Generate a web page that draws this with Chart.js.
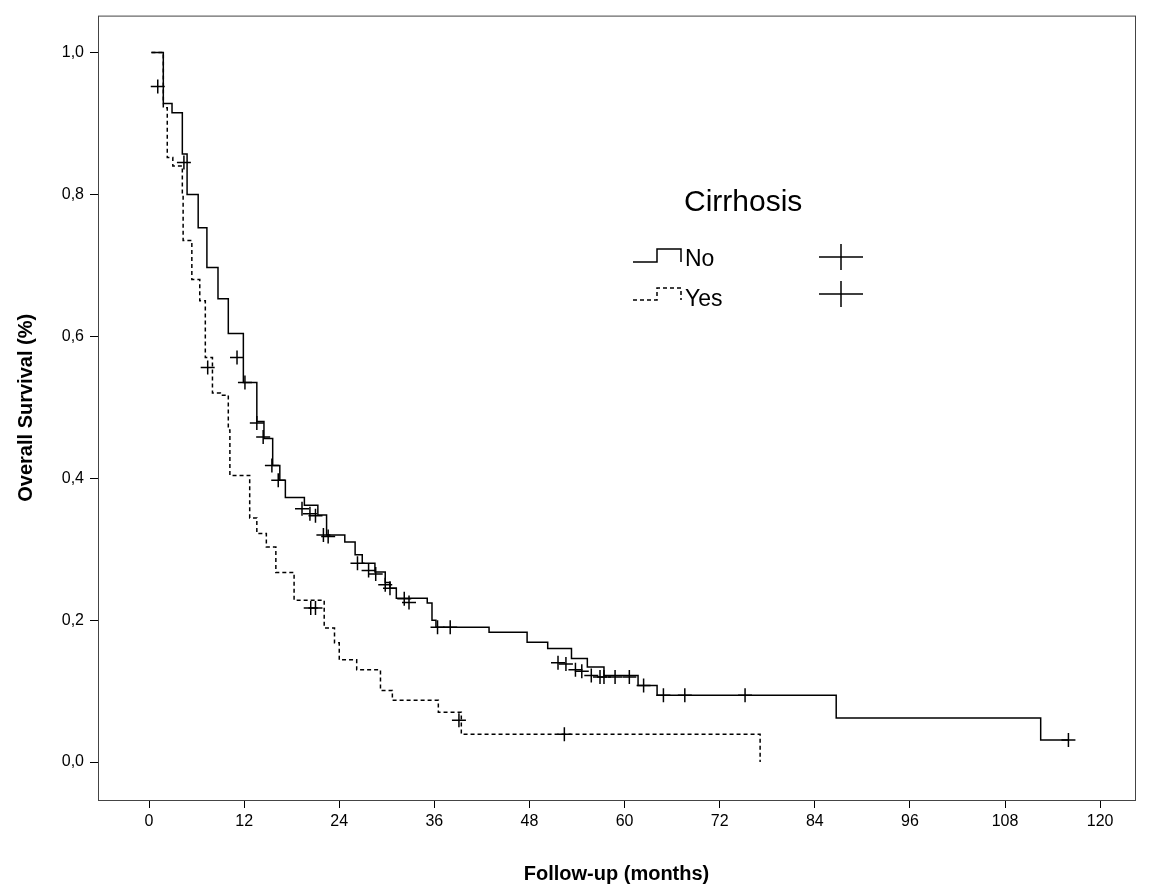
<!DOCTYPE html>
<html>
<head>
<meta charset="utf-8">
<script src="https://cdn.jsdelivr.net/npm/chart.js@4"></script>
<style>
  html, body { margin: 0; padding: 0; background: #fff; }
  #wrap { width: 1151px; height: 890px; }
</style>
</head>
<body>
<div id="wrap"><canvas id="km" width="1151" height="890"></canvas></div>
<script>
// Kaplan-Meier: overall survival by cirrhosis status
const xTicks = [0, 12, 24, 36, 48, 60, 72, 84, 96, 108, 120];
const yTicks = [0, 0.2, 0.4, 0.6, 0.8, 1.0];

// "No" group: event times and survival after each step
const noTimes = [0.3, 1.8, 2.9, 4.2, 4.8, 6.2, 7.3, 8.7, 10.0, 11.9, 13.6, 14.5, 15.6, 16.5, 17.2, 19.6, 21.3, 22.4, 24.7, 26.0, 26.9, 28.5, 29.8, 30.4, 31.2, 35.1, 35.7, 36.2, 42.9, 47.7, 50.3, 53.3, 55.3, 57.4, 61.7, 64.1, 86.7, 112.5, 116.0];
const noSurv  = [1.0, 0.928, 0.915, 0.857, 0.80, 0.753, 0.697, 0.653, 0.604, 0.535, 0.48, 0.456, 0.418, 0.397, 0.373, 0.362, 0.348, 0.32, 0.31, 0.292, 0.28, 0.268, 0.253, 0.245, 0.231, 0.224, 0.20, 0.19, 0.183, 0.169, 0.16, 0.146, 0.134, 0.122, 0.108, 0.094, 0.062, 0.031, 0.031];
const noCensT = [1.1, 4.4, 11.1, 12.1, 13.6, 14.4, 15.5, 16.3, 19.3, 20.3, 21.0, 22.0, 22.6, 26.3, 27.7, 28.6, 29.8, 30.4, 32.2, 32.8, 36.4, 38.0, 51.6, 52.6, 53.8, 54.6, 55.8, 56.9, 57.4, 58.8, 60.6, 62.4, 64.9, 67.6, 75.2, 116.0];
const noCensS = [0.952, 0.845, 0.57, 0.535, 0.478, 0.458, 0.418, 0.397, 0.357, 0.35, 0.347, 0.32, 0.318, 0.28, 0.27, 0.265, 0.25, 0.245, 0.23, 0.225, 0.19, 0.19, 0.14, 0.138, 0.13, 0.128, 0.122, 0.12, 0.12, 0.12, 0.12, 0.108, 0.094, 0.094, 0.094, 0.031];

// "Yes" group
const yesTimes = [0.3, 1.8, 2.3, 3.0, 4.2, 4.3, 5.4, 6.4, 7.1, 8.0, 9.0, 10.0, 10.2, 12.7, 13.6, 14.8, 16.0, 18.3, 22.1, 23.4, 24.0, 26.2, 29.2, 30.7, 36.5, 39.4, 77.1];
const yesSurv  = [1.0, 0.922, 0.852, 0.84, 0.80, 0.735, 0.68, 0.65, 0.57, 0.52, 0.517, 0.468, 0.404, 0.344, 0.322, 0.303, 0.267, 0.228, 0.189, 0.168, 0.144, 0.130, 0.101, 0.087, 0.070, 0.039, 0.0];
const yesCensT = [7.4, 20.4, 21.0, 39.1, 52.4];
const yesCensS = [0.556, 0.217, 0.217, 0.059, 0.039];

const pts = (xs, ys) => xs.map((x, i) => ({ x, y: ys[i] }));

const legendPlugin = {
  id: "kmLegend",
  afterDraw(chart) {
    const c = chart.ctx;
    c.save();
    c.fillStyle = "#000";
    c.strokeStyle = "#000";
    c.textBaseline = "middle";
    c.font = "30px Arial, 'Liberation Sans', sans-serif";
    c.fillText("Cirrhosis", 684, 203);
    c.font = "23px Arial, 'Liberation Sans', sans-serif";
    c.fillText("No", 685, 260);
    c.fillText("Yes", 685, 300);
    c.lineWidth = 1.5;
    // step icons
    c.beginPath();
    c.moveTo(633, 262); c.lineTo(657, 262); c.lineTo(657, 249); c.lineTo(681, 249); c.lineTo(681, 262);
    c.stroke();
    c.setLineDash([4, 3]);
    c.beginPath();
    c.moveTo(633, 300); c.lineTo(657, 300); c.lineTo(657, 288); c.lineTo(681, 288); c.lineTo(681, 300);
    c.stroke();
    c.setLineDash([]);
    // censor crosses
    [257, 294].forEach(y => {
      c.beginPath();
      c.moveTo(819, y); c.lineTo(863, y);
      c.moveTo(841, y - 13); c.lineTo(841, y + 13);
      c.stroke();
    });
    // plot frame
    const a = chart.chartArea;
    c.strokeStyle = "#444";
    c.lineWidth = 1;
    c.strokeRect(a.left + 0.5, a.top + 0.5, a.right - a.left, a.bottom - a.top);
    c.restore();
  }
};

const tickFont = { family: "Arial, 'Liberation Sans', sans-serif", size: 16 };
const titleFont = { family: "Arial, 'Liberation Sans', sans-serif", size: 20, weight: "bold" };

new Chart(document.getElementById("km").getContext("2d"), {
  type: "scatter",
  data: {
    datasets: [
      { data: pts(noTimes, noSurv), showLine: true, stepped: "before", borderColor: "#000", borderWidth: 1.5, pointRadius: 0, fill: false },
      { data: pts(yesTimes, yesSurv), showLine: true, stepped: "before", borderColor: "#000", borderWidth: 1.5, borderDash: [4, 3], pointRadius: 0, fill: false },
      { data: pts(noCensT, noCensS), showLine: false, pointStyle: "cross", pointRadius: 7, borderColor: "#000", borderWidth: 1.5 },
      { data: pts(yesCensT, yesCensS), showLine: false, pointStyle: "cross", pointRadius: 7, borderColor: "#000", borderWidth: 1.5 }
    ]
  },
  options: {
    responsive: false,
    animation: false,
    layout: { padding: { left: 10, right: 16, top: 15, bottom: 0 } },
    plugins: { legend: { display: false }, tooltip: { enabled: false } },
    scales: {
      x: {
        type: "linear",
        min: -6.44, max: 124.4,
        afterBuildTicks: s => { s.ticks = xTicks.map(v => ({ value: v })); },
        afterFit: s => { s.height = 90; },
        grid: { drawOnChartArea: false, drawTicks: true, tickLength: 8, color: "#000" },
        border: { display: false },
        ticks: { color: "#000", font: tickFont, padding: 4 },
        title: { display: true, text: "Follow-up (months)", color: "#000", font: titleFont, padding: { top: 14 } }
      },
      y: {
        type: "linear",
        min: -0.0535, max: 1.052,
        afterBuildTicks: s => { s.ticks = yTicks.map(v => ({ value: v })); },
        afterFit: s => { s.width = 88; },
        grid: { drawOnChartArea: false, drawTicks: true, tickLength: 8, color: "#000" },
        border: { display: false },
        ticks: { color: "#000", font: tickFont, padding: 6, callback: v => v.toFixed(1).replace(".", ",") },
        title: { display: true, text: "Overall Survival (%)", color: "#000", font: titleFont, padding: { bottom: 10 } }
      }
    }
  },
  plugins: [legendPlugin]
});
</script>
</body>
</html>
